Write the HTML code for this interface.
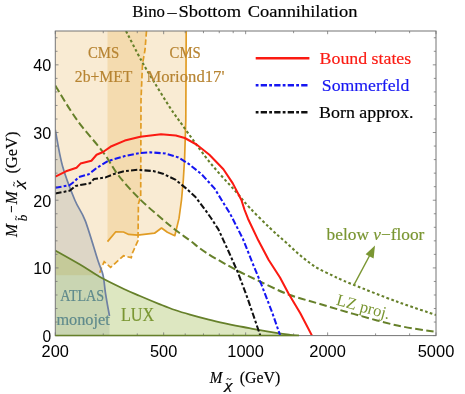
<!DOCTYPE html>
<html><head><meta charset="utf-8"><title>Bino-Sbottom Coannihilation</title>
<style>html,body{margin:0;padding:0;background:#fff;width:465px;height:394px;overflow:hidden}svg{display:block;will-change:transform}</style>
</head><body>
<svg width="465" height="394" viewBox="0 0 465 394">
<rect width="465" height="394" fill="#fff"/>
<defs><clipPath id="c"><rect x="55.3" y="31.0" width="380.7" height="304.6"/></clipPath></defs>
<g clip-path="url(#c)">
<path d="M55.3,31.0 L146.5,31.0 L145.0,50.0 L142.5,64.0 L141.0,100.0 L140.7,196.0 L138.4,204.0 L138.0,240.5 L132.0,254.0 L131.3,257.6 L123.5,255.8 L110.6,267.4 L104.2,261.7 L101.6,267.4 L99.0,275.2 L55.3,275.2Z" fill="#E19C24" fill-opacity="0.2"/>
<path d="M107.5,31.0 L107.5,241.6 L107.5,241.6 L115.8,231.8 L123.5,232.0 L128.7,234.4 L137.7,235.2 L154.5,233.2 L161.5,228.0 L167.4,232.3 L174.8,235.7 L179.0,218.4 L181.5,200.0 L183.3,180.0 L184.6,158.7 L185.8,120.0 L186.2,31.0Z" fill="#E19C24" fill-opacity="0.2"/>
<path d="M55.3,130.0 L55.3,130.0 L62.5,166.0 L74.8,200.0 L85.2,220.6 L98.0,260.8 L103.0,275.0 L105.6,294.0 L109.5,316.0 L109.5,335.6 L55.3,335.6Z" fill="#6e8096" fill-opacity="0.2"/>
<path d="M55.3,250.5 C59.4,252.8 72.5,260.1 80.0,264.5 C87.5,268.9 92.5,272.8 100.0,277.0 C107.5,281.2 118.3,286.3 125.0,289.5 C131.7,292.7 134.2,293.5 140.0,296.0 C145.8,298.5 154.2,302.0 160.0,304.3 C165.8,306.6 170.0,308.3 175.0,310.0 C180.0,311.7 184.4,313.0 190.0,314.6 C195.6,316.2 203.0,318.2 208.8,319.6 C214.6,321.1 219.3,322.1 225.0,323.3 C230.7,324.5 237.4,325.9 243.2,327.0 C249.0,328.1 254.3,329.2 260.0,330.2 C265.7,331.2 272.6,332.4 277.6,333.2 C282.6,334.0 286.4,334.4 290.0,334.8 C293.6,335.2 297.5,335.5 299.0,335.6 L55.3,335.6 Z" fill="#8FB032" fill-opacity="0.3"/>
<path d="M146.5,31.0 L145.0,50.0 L142.5,64.0 L141.0,100.0 L140.7,196.0 L138.4,204.0 L138.0,240.5 L132.0,254.0 L131.3,257.6 L123.5,255.8 L110.6,267.4 L104.2,261.7 L101.6,267.4 L99.0,275.2" fill="none" stroke="#E19C24" stroke-width="1.7" stroke-dasharray="5.7,2.7"/>
<path d="M107.5,241.6 L115.8,231.8 L123.5,232.0 L128.7,234.4 L137.7,235.2 L154.5,233.2 L161.5,228.0 L167.4,232.3 L174.8,235.7 L179.0,218.4 L181.5,200.0 L183.3,180.0 L184.6,158.7 L185.8,120.0 L186.2,31.0" fill="none" stroke="#E19C24" stroke-width="1.7" stroke-linejoin="round"/>
<path d="M55.3,130.0 C56.5,136.0 59.2,154.3 62.5,166.0 C65.8,177.7 71.0,190.9 74.8,200.0 C78.6,209.1 81.3,210.5 85.2,220.6 C89.1,230.7 95.0,251.7 98.0,260.8 C101.0,269.9 101.7,269.5 103.0,275.0 C104.3,280.5 104.5,287.2 105.6,294.0 C106.7,300.8 108.8,312.3 109.5,316.0" fill="none" stroke="#6f80a3" stroke-width="1.7"/>
<path d="M55.3,250.5 C59.4,252.8 72.5,260.1 80.0,264.5 C87.5,268.9 92.5,272.8 100.0,277.0 C107.5,281.2 118.3,286.3 125.0,289.5 C131.7,292.7 134.2,293.5 140.0,296.0 C145.8,298.5 154.2,302.0 160.0,304.3 C165.8,306.6 170.0,308.3 175.0,310.0 C180.0,311.7 184.4,313.0 190.0,314.6 C195.6,316.2 203.0,318.2 208.8,319.6 C214.6,321.1 219.3,322.1 225.0,323.3 C230.7,324.5 237.4,325.9 243.2,327.0 C249.0,328.1 254.3,329.2 260.0,330.2 C265.7,331.2 272.6,332.4 277.6,333.2 C282.6,334.0 286.4,334.4 290.0,334.8 C293.6,335.2 297.5,335.5 299.0,335.6" fill="none" stroke="#66802a" stroke-width="1.8"/>
<path d="M55.3,85.6 C58.9,91.3 69.0,108.9 77.0,120.0 C85.0,131.1 96.1,142.8 103.0,152.0 C109.9,161.2 112.5,167.8 118.5,175.5 C124.5,183.2 132.1,191.4 139.2,198.5 C146.3,205.6 154.9,212.8 161.0,218.0 C167.1,223.2 170.7,226.2 175.5,230.0 C180.3,233.8 184.9,236.7 190.0,240.5 C195.1,244.3 198.2,247.6 206.0,252.6 C213.8,257.6 228.2,265.7 237.0,270.4 C245.8,275.1 250.4,277.0 259.0,281.0 C267.6,285.0 278.3,290.7 288.5,294.5 C298.7,298.3 309.2,300.8 320.0,304.0 C330.8,307.2 340.6,310.3 353.5,313.9 C366.4,317.5 383.6,322.5 397.4,325.5 C411.1,328.5 429.6,330.9 436.0,332.0" fill="none" stroke="#66802a" stroke-width="2" stroke-dasharray="7.6,3.4"/>
<path d="M126.0,31.0 C128.6,36.0 136.9,52.5 141.6,61.0 C146.3,69.5 149.3,74.0 154.0,81.8 C158.7,89.6 165.2,100.2 170.0,107.6 C174.8,115.0 177.2,117.9 183.0,126.0 C188.8,134.1 198.8,148.1 205.0,156.2 C211.2,164.3 215.3,168.9 220.5,174.8 C225.7,180.7 231.1,186.2 236.0,191.8 C240.9,197.4 244.3,202.1 250.0,208.1 C255.7,214.1 264.1,222.4 270.0,228.1 C275.9,233.8 280.3,237.3 285.5,242.0 C290.7,246.7 295.8,251.7 301.0,256.0 C306.2,260.3 311.3,264.4 316.5,267.6 C321.7,270.8 327.8,273.2 332.0,275.3 C336.2,277.4 338.4,278.4 342.0,280.0 C345.6,281.6 344.3,281.2 353.5,284.8 C362.7,288.4 383.6,296.8 397.4,301.8 C411.1,306.8 429.6,312.8 436.0,315.0" fill="none" stroke="#66802a" stroke-width="2.1" stroke-dasharray="2.7,2.4"/>
<path d="M55.3,193.6 L70.0,190.6 L75.3,186.0 L90.0,183.2 L94.0,179.0 L105.6,177.4 L114.0,174.0 L124.8,171.1 L137.7,169.8 L153.2,171.1 L162.9,173.7 L175.8,179.9 L186.1,188.4 L195.5,197.0 L205.5,210.3 L211.0,218.0 L218.4,229.4 L228.5,251.3 L237.7,272.0 L245.5,292.6 L248.7,301.6 L260.3,335.6" fill="none" stroke="#111" stroke-width="2.05" stroke-linejoin="round" stroke-dasharray="6.3,2.2,2.8,2.2"/>
<path d="M55.3,187.8 L69.5,185.2 L74.5,181.4 L78.5,177.2 L88.8,174.2 L96.6,168.0 L108.0,161.0 L124.8,156.1 L140.3,153.0 L150.6,152.3 L165.5,153.5 L178.4,157.4 L188.7,163.9 L201.6,174.2 L214.5,188.4 L224.8,205.2 L230.0,213.5 L242.9,238.8 L252.5,263.0 L261.0,283.5 L272.0,312.0 L280.2,335.6" fill="none" stroke="#1616f2" stroke-width="2.05" stroke-linejoin="round" stroke-dasharray="6.3,2.2,2.8,2.2"/>
<path d="M55.3,176.7 L66.0,171.3 L76.5,167.7 L80.5,163.6 L91.4,160.7 L96.6,154.8 L103.0,152.0 L111.5,146.2 L124.8,140.6 L140.3,136.8 L161.0,134.2 L175.8,135.5 L184.8,138.0 L196.5,144.5 L209.4,154.8 L223.4,169.2 L232.8,183.4 L241.4,200.0 L244.6,210.0 L248.0,218.7 L258.4,240.6 L268.7,260.0 L280.0,277.5 L288.5,293.5 L300.3,313.2 L312.0,335.6" fill="none" stroke="#fb1a12" stroke-width="2.05" stroke-linejoin="round"/>
</g>
<rect x="55.3" y="31.0" width="380.7" height="304.6" fill="none" stroke="#757575" stroke-width="1"/>
<path d="M55.3,335.60h3.2M436.0,335.60h-3.2M55.3,322.06h2.2M436.0,322.06h-2.2M55.3,308.52h2.2M436.0,308.52h-2.2M55.3,294.99h2.2M436.0,294.99h-2.2M55.3,281.45h2.2M436.0,281.45h-2.2M55.3,267.91h3.2M436.0,267.91h-3.2M55.3,254.37h2.2M436.0,254.37h-2.2M55.3,240.84h2.2M436.0,240.84h-2.2M55.3,227.30h2.2M436.0,227.30h-2.2M55.3,213.76h2.2M436.0,213.76h-2.2M55.3,200.22h3.2M436.0,200.22h-3.2M55.3,186.68h2.2M436.0,186.68h-2.2M55.3,173.15h2.2M436.0,173.15h-2.2M55.3,159.61h2.2M436.0,159.61h-2.2M55.3,146.07h2.2M436.0,146.07h-2.2M55.3,132.53h3.2M436.0,132.53h-3.2M55.3,119.00h2.2M436.0,119.00h-2.2M55.3,105.46h2.2M436.0,105.46h-2.2M55.3,91.92h2.2M436.0,91.92h-2.2M55.3,78.38h2.2M436.0,78.38h-2.2M55.3,64.84h3.2M436.0,64.84h-3.2M55.3,51.31h2.2M436.0,51.31h-2.2M55.3,37.77h2.2M436.0,37.77h-2.2M55.30,335.6v-3.2M55.30,31.0v3.2M103.25,335.6v-2.2M103.25,31.0v2.2M137.28,335.6v-2.2M137.28,31.0v2.2M163.67,335.6v-3.2M163.67,31.0v3.2M185.23,335.6v-2.2M185.23,31.0v2.2M203.47,335.6v-2.2M203.47,31.0v2.2M219.26,335.6v-2.2M219.26,31.0v2.2M233.19,335.6v-2.2M233.19,31.0v2.2M293.60,335.6v-2.2M293.60,31.0v2.2M245.65,335.6v-3.2M245.65,31.0v3.2M327.63,335.6v-3.2M327.63,31.0v3.2M375.58,335.6v-2.2M375.58,31.0v2.2M409.61,335.6v-2.2M409.61,31.0v2.2M436.00,335.6v-3.2M436.00,31.0v3.2" stroke="#757575" stroke-width="0.8" fill="none"/>
<path d="M55.3,335.6H299" stroke="#66802a" stroke-width="1.5" fill="none"/>
<text x="42.599999999999994" y="341.9" font-family="Liberation Sans, sans-serif" font-size="15.6" fill="#000" textLength="8.700000000000001" lengthAdjust="spacingAndGlyphs">0</text>
<text x="33.3" y="274.2" font-family="Liberation Sans, sans-serif" font-size="15.6" fill="#000" textLength="18.0" lengthAdjust="spacingAndGlyphs">10</text>
<text x="33.3" y="206.5" font-family="Liberation Sans, sans-serif" font-size="15.6" fill="#000" textLength="18.0" lengthAdjust="spacingAndGlyphs">20</text>
<text x="33.3" y="138.8" font-family="Liberation Sans, sans-serif" font-size="15.6" fill="#000" textLength="18.0" lengthAdjust="spacingAndGlyphs">30</text>
<text x="33.3" y="71.1" font-family="Liberation Sans, sans-serif" font-size="15.6" fill="#000" textLength="18.0" lengthAdjust="spacingAndGlyphs">40</text>
<text x="41.6" y="356.5" font-family="Liberation Sans, sans-serif" font-size="15.6" fill="#000" textLength="27.3" lengthAdjust="spacingAndGlyphs">200</text>
<text x="150.0" y="356.5" font-family="Liberation Sans, sans-serif" font-size="15.6" fill="#000" textLength="27.3" lengthAdjust="spacingAndGlyphs">500</text>
<text x="227.3" y="356.5" font-family="Liberation Sans, sans-serif" font-size="15.6" fill="#000" textLength="36.6" lengthAdjust="spacingAndGlyphs">1000</text>
<text x="309.3" y="356.5" font-family="Liberation Sans, sans-serif" font-size="15.6" fill="#000" textLength="36.6" lengthAdjust="spacingAndGlyphs">2000</text>
<text x="417.7" y="356.5" font-family="Liberation Sans, sans-serif" font-size="15.6" fill="#000" textLength="36.6" lengthAdjust="spacingAndGlyphs">5000</text>
<text x="132.3" y="17.4" font-family="Liberation Serif, serif" font-size="17" fill="#000" stroke="#000" stroke-width="0.18" textLength="32.6" lengthAdjust="spacingAndGlyphs">Bino</text>
<text x="166.3" y="18.7" font-family="Liberation Serif, serif" font-size="17" fill="#000" stroke="#000" stroke-width="0.18" textLength="11.4" lengthAdjust="spacingAndGlyphs">−</text>
<text x="178.4" y="17.4" font-family="Liberation Serif, serif" font-size="17" fill="#000" stroke="#000" stroke-width="0.18" textLength="62.7" lengthAdjust="spacingAndGlyphs">Sbottom</text>
<text x="247.7" y="17.4" font-family="Liberation Serif, serif" font-size="17" fill="#000" stroke="#000" stroke-width="0.18" textLength="109.7" lengthAdjust="spacingAndGlyphs">Coannihilation</text>
<path d="M255.7,58.3H309.4" stroke="#fb1a12" stroke-width="2.5"/>
<text x="319.6" y="63.8" font-family="Liberation Serif, serif" font-size="17" fill="#fb1a12" stroke="#fb1a12" stroke-width="0.18" textLength="91.6" lengthAdjust="spacingAndGlyphs">Bound states</text>
<path d="M255.7,85.25H309.4" stroke="#1616f2" stroke-width="2.5" stroke-dasharray="6.3,2.2,2.8,2.2" stroke-dashoffset="8.5"/>
<text x="321.8" y="91.0" font-family="Liberation Serif, serif" font-size="17" fill="#1616f2" stroke="#1616f2" stroke-width="0.18" textLength="87.6" lengthAdjust="spacingAndGlyphs">Sommerfeld</text>
<path d="M255.7,112.2H309.4" stroke="#111" stroke-width="2.5" stroke-dasharray="6.3,2.2,2.8,2.2" stroke-dashoffset="8.5"/>
<text x="319.1" y="117.9" font-family="Liberation Serif, serif" font-size="17" fill="#000" stroke="#000" stroke-width="0.18" textLength="94.4" lengthAdjust="spacingAndGlyphs">Born approx.</text>
<text x="88" y="57.6" font-family="Liberation Serif, serif" font-size="15.8" fill="#b78432" stroke="#b78432" stroke-width="0.18" textLength="31.2" lengthAdjust="spacingAndGlyphs">CMS</text>
<text x="74.8" y="81.6" font-family="Liberation Serif, serif" font-size="15.8" fill="#b78432" stroke="#b78432" stroke-width="0.18" textLength="57.6" lengthAdjust="spacingAndGlyphs">2b+MET</text>
<text x="169.6" y="57.6" font-family="Liberation Serif, serif" font-size="15.8" fill="#b78432" stroke="#b78432" stroke-width="0.18" textLength="31.2" lengthAdjust="spacingAndGlyphs">CMS</text>
<text x="146.4" y="81.6" font-family="Liberation Serif, serif" font-size="15.8" fill="#b78432" stroke="#b78432" stroke-width="0.18" textLength="78" lengthAdjust="spacingAndGlyphs">Moriond17'</text>
<text x="60.3" y="301.4" font-family="Liberation Serif, serif" font-size="15.8" fill="#5f8a8c" stroke="#5f8a8c" stroke-width="0.18" textLength="43.8" lengthAdjust="spacingAndGlyphs">ATLAS</text>
<text x="56.4" y="325.2" font-family="Liberation Serif, serif" font-size="15.8" fill="#5f8a8c" stroke="#5f8a8c" stroke-width="0.18" textLength="53.4" lengthAdjust="spacingAndGlyphs">monojet</text>
<text x="120.9" y="320.8" font-family="Liberation Serif, serif" font-size="18.6" fill="#7a9632" stroke="#7a9632" stroke-width="0.18" textLength="33.4" lengthAdjust="spacingAndGlyphs">LUX</text>
<text x="326.6" y="239.7" font-family="Liberation Serif, serif" font-size="17" fill="#7a9632" stroke="#7a9632" stroke-width="0.18" textLength="97.8" lengthAdjust="spacingAndGlyphs">below <tspan font-style="italic">ν</tspan>−floor</text>
<text transform="translate(335.5,304.6) rotate(15.6)" font-family="Liberation Serif, serif" font-size="16.5" fill="#7a9632" textLength="55" lengthAdjust="spacingAndGlyphs">LZ proj.</text>
<path d="M354,284.8L371.5,252" stroke="#7a9632" stroke-width="1.4" fill="none"/>
<path d="M375,245.6L373.6,258.5L365.6,254.2Z" fill="#7a9632"/>
<text x="209.7" y="383" font-family="Liberation Serif, serif" font-size="17" fill="#000" stroke="#000" stroke-width="0.18" textLength="12.6" lengthAdjust="spacingAndGlyphs" font-style="italic">M</text>
<text x="224.8" y="388.5" font-family="Liberation Serif, serif" font-size="11.5" fill="#000" stroke="#000" stroke-width="0.18" textLength="7.8" lengthAdjust="spacingAndGlyphs" font-style="italic">χ</text>
<text x="226.6" y="382.4" font-family="Liberation Serif, serif" font-size="9" fill="#000" stroke="#000" stroke-width="0.18" textLength="5" lengthAdjust="spacingAndGlyphs">~</text>
<text x="239.8" y="383" font-family="Liberation Serif, serif" font-size="17" fill="#000" stroke="#000" stroke-width="0.18" textLength="40.4" lengthAdjust="spacingAndGlyphs">(GeV)</text>
<g transform="translate(17.2,237) rotate(-90)">
<text x="0" y="0" font-family="Liberation Serif, serif" font-size="17" fill="#000" stroke="#000" stroke-width="0.18" textLength="13" lengthAdjust="spacingAndGlyphs" font-style="italic">M</text>
<text x="15.8" y="9.3" font-family="Liberation Serif, serif" font-size="12.5" fill="#000" stroke="#000" stroke-width="0.18" textLength="6.6" lengthAdjust="spacingAndGlyphs" font-style="italic">b</text>
<text x="16.4" y="1.6" font-family="Liberation Serif, serif" font-size="9" fill="#000" stroke="#000" stroke-width="0.18" textLength="5" lengthAdjust="spacingAndGlyphs">~</text>
<text x="24" y="0" font-family="Liberation Serif, serif" font-size="17" fill="#000" stroke="#000" stroke-width="0.18" textLength="7.6" lengthAdjust="spacingAndGlyphs">−</text>
<text x="32.8" y="0" font-family="Liberation Serif, serif" font-size="17" fill="#000" stroke="#000" stroke-width="0.18" textLength="13" lengthAdjust="spacingAndGlyphs" font-style="italic">M</text>
<text x="48.8" y="5.6" font-family="Liberation Serif, serif" font-size="11.5" fill="#000" stroke="#000" stroke-width="0.18" textLength="7.8" lengthAdjust="spacingAndGlyphs" font-style="italic">χ</text>
<text x="50.6" y="-0.6" font-family="Liberation Serif, serif" font-size="9" fill="#000" stroke="#000" stroke-width="0.18" textLength="5" lengthAdjust="spacingAndGlyphs">~</text>
<text x="63.4" y="0" font-family="Liberation Serif, serif" font-size="17" fill="#000" stroke="#000" stroke-width="0.18" textLength="42" lengthAdjust="spacingAndGlyphs">(GeV)</text>
</g>
</svg>
</body></html>
